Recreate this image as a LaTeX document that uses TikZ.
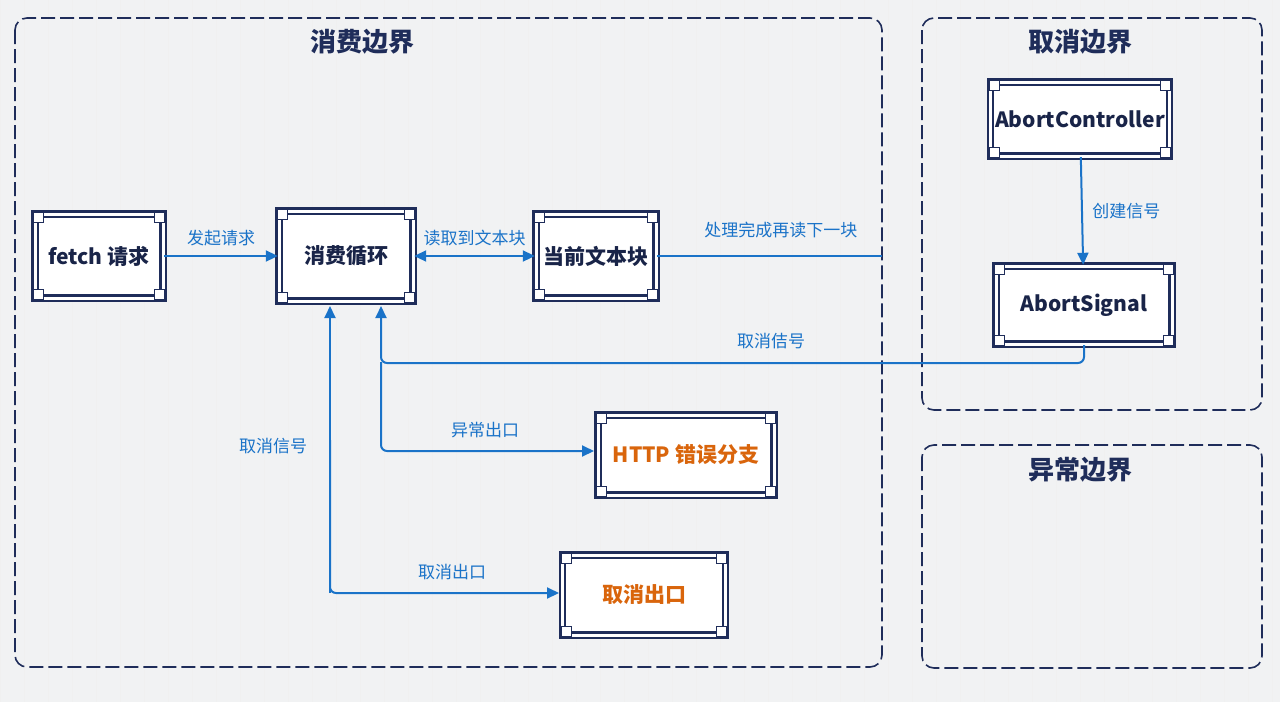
\documentclass[tikz,border=0pt]{standalone}
\usepackage{fontspec}
\setmainfont{Noto Sans CJK SC}
\usetikzlibrary{arrows.meta}
\definecolor{navy}{HTML}{1F2D5A}
\definecolor{lblue}{HTML}{1A73C8}
\definecolor{org}{HTML}{D9650C}
\definecolor{bg}{HTML}{F1F2F3}
\begin{document}
\begin{tikzpicture}[x=1pt,y=-1pt,
  frame/.style={draw=navy,line width=1.6pt,dash pattern=on 14pt off 5pt,rounded corners=12pt},
  ttl/.style={font=\fontsize{26}{30}\selectfont\bfseries,text=navy},
  box/.style={draw=navy,line width=2.4pt,double=white,double distance=3pt,fill=white,inner sep=0pt,font=\fontsize{21}{25}\selectfont\bfseries,text=navy!80!black},
  lbl/.style={font=\fontsize{17}{20}\selectfont,text=lblue},
  ar/.style={draw=lblue,line width=2pt,-{Triangle[length=12pt,width=11pt]}},
  ln/.style={draw=lblue,line width=2pt,rounded corners=6pt}]
\fill[bg] (0,0) rectangle (1280,702);
\useasboundingbox (0,0) rectangle (1280,702);
\draw[black!6,line width=0.5pt,step=24] (0,0) grid (1280,702);
\draw[frame] (15,18) rectangle (882,667);
\draw[frame] (922,18) rectangle (1262,410);
\draw[frame] (922,445) rectangle (1262,668);
\node[ttl] at (362,42) {消费边界};
\node[ttl] at (1080,42) {取消边界};
\node[ttl] at (1080,470) {异常边界};
\node[box,minimum width=128,minimum height=84] (fetch) at (99,256) {fetch 请求};
\node[box,minimum width=134,minimum height=90] (loop) at (346,256) {消费循环};
\node[box,minimum width=120,minimum height=84] (cur) at (596,256) {当前文本块};
\node[box,minimum width=179,minimum height=74] (ac) at (1080,119) {AbortController};
\node[box,minimum width=176,minimum height=78] (as) at (1084,305) {AbortSignal};
\node[box,minimum width=176,minimum height=80,text=org] (http) at (686,455) {HTTP 错误分支};
\node[box,minimum width=163,minimum height=80,text=org] (cx) at (644,595) {取消出口};
\foreach \n in {fetch,loop,cur,ac,as,http,cx}{
  \foreach \c/\dx/\dy in {north west/1/1,north east/-1/1,south west/1/-1,south east/-1/-1}{
    \draw[navy,line width=1.2pt,fill=white] (\n.\c) rectangle ++(\dx*10,\dy*10);
  }}
\coordinate (e1) at (882,256);
\draw[ar] (fetch) -- (loop) node[lbl,midway,above=6pt] {发起请求};
\draw[ar,{Triangle[length=12pt,width=11pt]}-{Triangle[length=12pt,width=11pt]}] (loop) -- (cur) node[lbl,midway,above=6pt] {读取到文本块};
\draw[ln] (cur) -- (e1) node[lbl,pos=0.55,above=14pt] {处理完成再读下一块};
\draw[ar] (ac) -- (as) node[lbl,midway,right=6pt] {创建信号};
\coordinate (lb1) at (381,306);
\coordinate (lb2) at (330,306);
\coordinate (hw) at (594,451);
\coordinate (cw) at (559,593);
\draw[ar,rounded corners=6pt] (as.south) |- (1000,363) -- (381,363) -- (lb1);
\node[lbl] at (771,341) {取消佶号};
\draw[ar,rounded corners=6pt] (381,362) |- (hw);
\node[lbl] at (485,430) {异常出口};
\draw[ar] (330,593) -- (lb2);
\draw[ar,rounded corners=6pt] (330,440) |- (cw);
\node[lbl] at (452,572) {取消出口};
\node[lbl] at (273,446) {取消信号};
\end{tikzpicture}
\end{document}
